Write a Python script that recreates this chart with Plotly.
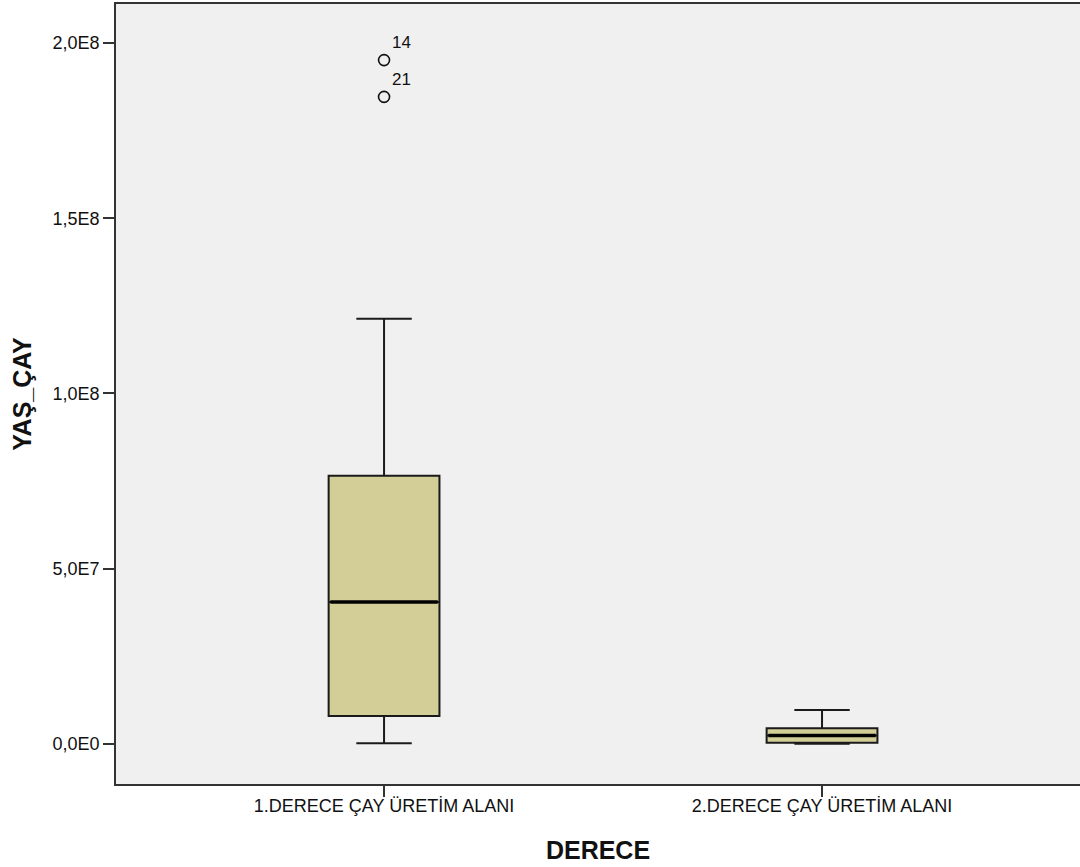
import plotly.graph_objects as go

categories = ["1.DERECE ÇAY ÜRETİM ALANI", "2.DERECE ÇAY ÜRETİM ALANI"]
lower_whisker = [0.2e6, 0.1e6]
q1_values = [8.0e6, 0.4e6]
median_values = [40.5e6, 2.4e6]
q3_values = [76.5e6, 4.5e6]
upper_whisker = [121.3e6, 9.7e6]

outlier_group = [0, 0]
outlier_values = [195.1e6, 184.6e6]
outlier_labels = ["14", "21"]

y_tick_values = [0, 5e7, 1e8, 1.5e8, 2e8]
y_tick_labels = ["0,0E0", "5,0E7", "1,0E8", "1,5E8", "2,0E8"]

BOX_W = 0.253
FONT = "Liberation Sans, Arial, sans-serif"
FILL = "#D3CE97"

fig = go.Figure()
for i, cat in enumerate(categories):
    fig.add_trace(go.Box(
        x=[i], q1=[q1_values[i]], median=[median_values[i]], q3=[q3_values[i]],
        lowerfence=[lower_whisker[i]], upperfence=[upper_whisker[i]],
        width=BOX_W, whiskerwidth=0.5, fillcolor=FILL,
        line=dict(color="#1a1a1a", width=2),
        boxpoints=False, showlegend=False, hoverinfo="skip",
    ))
    # thicker median line
    fig.add_trace(go.Scatter(
        x=[i - BOX_W / 2 + 0.004, i + BOX_W / 2 - 0.004],
        y=[median_values[i], median_values[i]],
        mode="lines", line=dict(color="#000000", width=3.5),
        showlegend=False, hoverinfo="skip",
    ))

fig.add_trace(go.Scatter(
    x=outlier_group, y=outlier_values, text=outlier_labels,
    mode="markers+text", textposition="top right",
    textfont=dict(family=FONT, size=17, color="#111"),
    marker=dict(symbol="circle-open", size=11, color="#111", line=dict(width=1.6)),
    showlegend=False, hoverinfo="skip", cliponaxis=False,
))

fig.update_layout(
    width=1080, height=867,
    margin=dict(l=116, r=0, t=4, b=83),
    paper_bgcolor="white", plot_bgcolor="#F0F0F0",
    font=dict(family=FONT, size=18, color="#222"),
)
fig.update_xaxes(
    range=[-0.612, 1.589], tickvals=[0, 1], ticktext=categories,
    showgrid=False, zeroline=False, showline=True, linecolor="#333", linewidth=1.6,
    mirror=True, ticks="outside", ticklen=11, tickcolor="#333", tickwidth=1.5,
    ticklabelstandoff=-6,
    tickfont=dict(family=FONT, size=18, color="#111"),
    title=dict(text="<b>DERECE</b>", font=dict(family=FONT, size=25, color="#111"), standoff=26),
)
fig.update_yaxes(
    range=[-11.4e6, 211.1e6], tickvals=y_tick_values, ticktext=y_tick_labels,
    showgrid=False, zeroline=False, showline=True, linecolor="#333", linewidth=1.6,
    ticks="outside", ticklen=11, tickcolor="#333", tickwidth=1.5,
    tickfont=dict(family=FONT, size=18, color="#111"),
    title=dict(text="<b>YAŞ_ÇAY</b>", font=dict(family=FONT, size=25, color="#111"), standoff=14),
)

fig.write_html(
    "out.html",
    config={"displayModeBar": False},
    post_script="document.body.style.margin='0';document.body.style.overflow='hidden';",
)
